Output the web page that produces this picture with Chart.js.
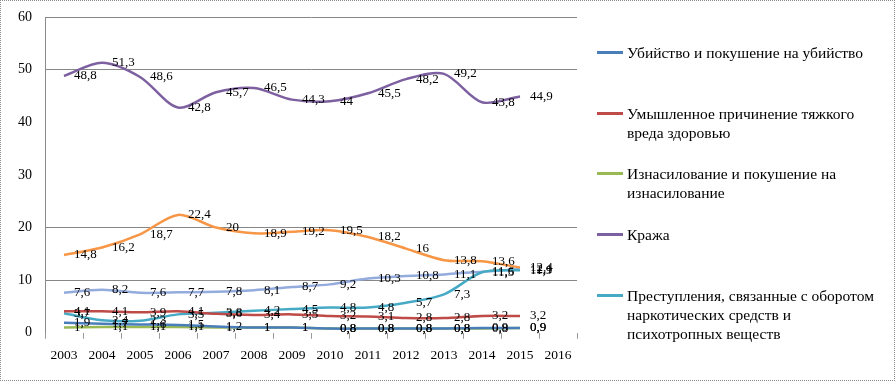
<!DOCTYPE html>
<html lang="ru">
<head>
<meta charset="utf-8">
<script src="https://cdn.jsdelivr.net/npm/chart.js@4.4.1/dist/chart.umd.min.js"></script>
<style>
  html, body { margin: 0; padding: 0; background: #fff; }
  #wrap {
    position: relative; width: 895px; height: 381px;
    box-sizing: border-box; border: 1px dotted #8a8a8a;
    font-family: "Liberation Serif", "Times New Roman", serif;
  }
  #chart { position: absolute; left: -1px; top: -1px; }
  #legend { position: absolute; left: 596px; top: 42px; width: 295px; }
  .item { height: 60.7px; position: relative; }
  .swatch { position: absolute; left: 0; top: 8px; width: 26px; height: 3px; }
  .txt { position: absolute; left: 30px; top: 0; font-size: 15.5px; line-height: 19px; color: #000; white-space: nowrap; }
</style>
</head>
<body>
<div id="wrap">
  <canvas id="chart" width="895" height="381"></canvas>
  <div id="legend"></div>
</div>
<script>
// Данные (чтение с исходной картинки)
const anos = ['2003', '2004', '2005', '2006', '2007', '2008', '2009', '2010', '2011', '2012', '2013', '2014', '2015', '2016'];

const ubiystvo  = [1.9, 1.7, 1.6, 1.5, 1.2, 1.0, 1.0, 0.8, 0.8, 0.8, 0.8, 0.9, 0.9];
const vred      = [4.1, 4.1, 3.9, 4.1, 3.6, 3.4, 3.5, 3.2, 3.1, 2.8, 2.8, 3.2, 3.2];
const iznas     = [1.0, 1.1, 1.1, 1.1, 1.0, 1.0, 1.0, 0.8, 0.8, 0.8, 0.8, 0.8, 0.9];
const kraja     = [48.8, 51.3, 48.6, 42.8, 45.7, 46.5, 44.3, 44, 45.5, 48.2, 49.2, 43.8, 44.9];
const narko     = [3.7, 2.4, 2.3, 3.5, 3.8, 4.2, 4.5, 4.8, 4.8, 5.7, 7.3, 11.5, 11.9];
const laranja   = [14.8, 16.2, 18.7, 22.4, 20, 18.9, 19.2, 19.5, 18.2, 16, 13.8, 13.6, 12.4];
const azulClaro = [7.6, 8.2, 7.6, 7.7, 7.8, 8.1, 8.7, 9.2, 10.3, 10.8, 11.1, 11.6, 12.1];

const legendas = [
    ['Убийство и покушение на убийство'],
    ['Умышленное причинение тяжкого', 'вреда здоровью'],
    ['Изнасилование и покушение на', 'изнасилование'],
    ['Кража'],
    ['Преступления, связанные с оборотом', 'наркотических средств и', 'психотропных веществ']
];

const cores = ['#4a7ebb', '#be4b48', '#98b954', '#7d60a0', '#46aac5', '#f79646', '#94abdd'];
const series = [ubiystvo, vred, iznas, kraja, narko, laranja, azulClaro];

// ===============================================
// Plugin simples para os rótulos de valores
// ===============================================
const rotulosPlugin = {
    id: 'rotulos',
    afterDatasetsDraw(chart) {
        const ctx = chart.ctx;
        ctx.save();
        ctx.font = '13px "Liberation Serif", serif';
        ctx.fillStyle = '#000';
        ctx.textAlign = 'left';
        ctx.textBaseline = 'middle';
        chart.data.datasets.forEach((ds, i) => {
            const meta = chart.getDatasetMeta(i);
            meta.data.forEach((pt, j) => {
                const v = ds.data[j];
                if (v == null) return;
                ctx.fillText(String(v).replace('.', ','), pt.x + 10, pt.y);
            });
        });
        ctx.restore();
    }
};

const datasets = series.map((dados, i) => ({
    label: legendas[i] ? legendas[i].join(' ') : '',
    data: dados,
    borderColor: cores[i],
    backgroundColor: cores[i],
    borderWidth: 2.5,
    pointRadius: 0,
    tension: 0.3,
    fill: false
}));

const ctx = document.getElementById('chart').getContext('2d');
new Chart(ctx, {
    type: 'line',
    data: { labels: anos, datasets: datasets },
    options: {
        responsive: false,
        animation: false,
        layout: { padding: { left: 18, right: 318, top: 17, bottom: 8 } },
        scales: {
            x: {
                offset: true,
                grid: { offset: true, drawOnChartArea: false, drawTicks: true, tickLength: 6, color: '#9a9a9a' },
                border: { display: false },
                ticks: { color: '#000', padding: 9, maxRotation: 0, autoSkip: false,
                         font: { family: '"Liberation Serif", serif', size: 13.5 } }
            },
            y: {
                min: 0, max: 60,
                ticks: { stepSize: 10, color: '#000', padding: 0,
                         font: { family: '"Liberation Serif", serif', size: 14 } },
                grid: {
                    drawTicks: true,
                    tickLength: 13,
                    tickColor: 'rgba(0,0,0,0)',
                    color: c => ([10, 20, 50, 60].includes(c.tick.value) ? '#878787' : 'rgba(0,0,0,0)')
                },
                border: { display: true, color: '#8a8a8a' }
            }
        },
        plugins: {
            legend: { display: false },
            tooltip: { enabled: false }
        }
    },
    plugins: [rotulosPlugin]
});

// Legenda em HTML (texto em várias linhas)
const leg = document.getElementById('legend');
legendas.forEach((linhas, i) => {
    const item = document.createElement('div');
    item.className = 'item';
    const sw = document.createElement('div');
    sw.className = 'swatch';
    sw.style.background = cores[i];
    const txt = document.createElement('div');
    txt.className = 'txt';
    txt.innerHTML = linhas.join('<br>');
    item.appendChild(sw);
    item.appendChild(txt);
    leg.appendChild(item);
});
</script>
</body>
</html>
